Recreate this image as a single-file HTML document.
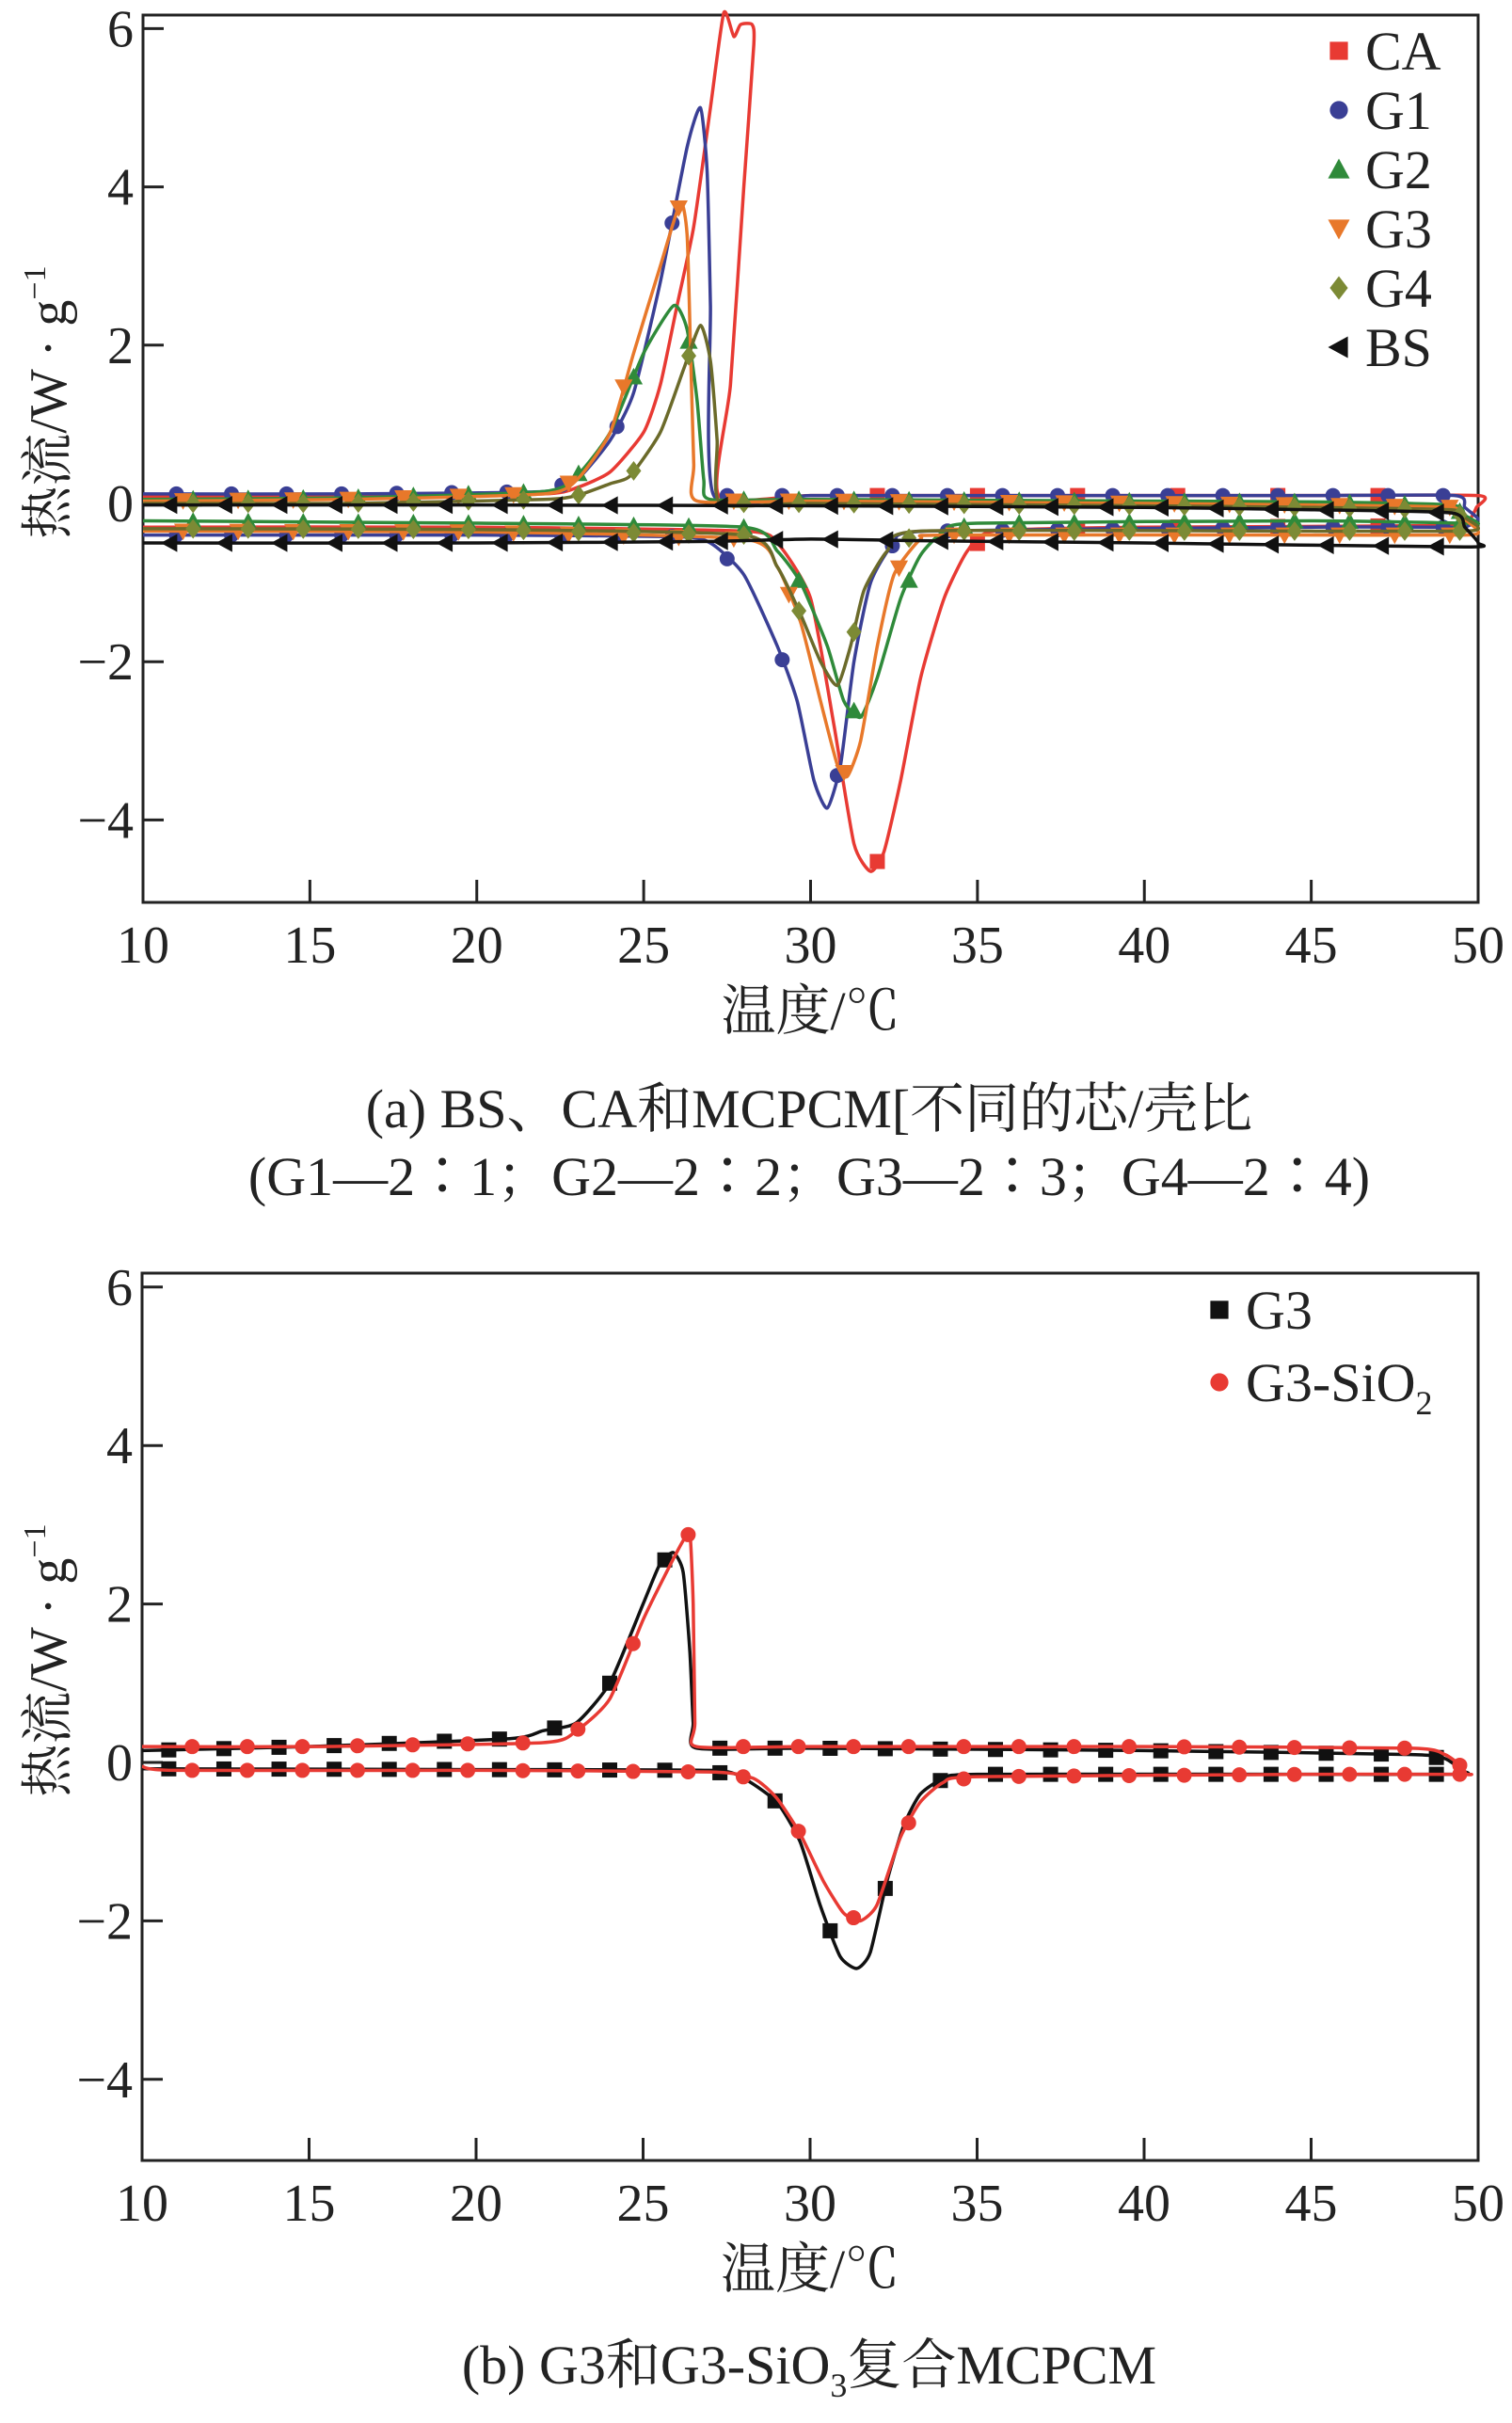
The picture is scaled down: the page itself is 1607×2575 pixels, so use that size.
<!DOCTYPE html>
<html><head><meta charset="utf-8">
<style>
html,body{margin:0;padding:0;background:#fff;}
svg{display:block;}
text{font-family:"Liberation Serif","Noto Serif CJK SC","Noto Sans CJK SC",serif;fill:#222;}
</style></head>
<body>
<svg id="fig" width="1607" height="2575" viewBox="0 0 1607 2575" xmlns="http://www.w3.org/2000/svg"></svg>
<script>
// ---------- Data (panel a) ----------
const xTicks = [10,15,20,25,30,35,40,45,50];
const yTicks = [-4,-2,0,2,4,6];
const yTickLabels = ["\u22124","\u22122","0","2","4","6"];

const caUpperT = [50,45,40,35,30,27.25,27.6,28.0,28.3,28.25,27.9,27.7,27.4,27.0,26.5,26.0,25.5,25.0,24.0,23.0,22.0,16,10];
const caUpperV = [0.1,0.1,0.1,0.1,0.1,0.1,1.5,4.0,5.8,6.05,6.05,5.9,6.2,5.0,3.5,2.5,1.5,0.9,0.4,0.2,0.12,0.1,0.08];
const caLowerT = [10,20,28,29,30,30.7,31.3,31.8,32.2,32.7,33.3,34,34.7,35.5,40,49,49.7,49.95];
const caLowerV = [-0.3,-0.3,-0.35,-0.5,-1.2,-2.8,-4.3,-4.65,-4.4,-3.5,-2.2,-1.2,-0.6,-0.35,-0.3,-0.28,-0.22,-0.05];

const g1UpperT = [50,49.6,49.3,45,40,35,30,27.1,27.0,26.9,26.7,26.3,25.5,24.7,24.0,23.0,22.0,16,10];
const g1UpperV = [-0.2,-0.05,0.1,0.1,0.1,0.1,0.1,0.1,2.5,4.2,5.0,4.5,2.8,1.4,0.8,0.3,0.15,0.12,0.12];
const g1LowerT = [10,20,26,27,28,29,29.6,30.1,30.5,30.9,31.3,31.8,32.5,33.5,45,49,49.6];
const g1LowerV = [-0.4,-0.4,-0.42,-0.5,-0.9,-1.8,-2.5,-3.5,-3.85,-3.3,-2.0,-1.0,-0.5,-0.35,-0.3,-0.3,-0.3];

const g2UpperT = [50,49.6,49.2,45,40,30,27.0,26.8,26.6,26.3,25.9,25.0,24.0,23.0,22.0,16,10];
const g2UpperV = [-0.25,-0.15,-0.02,0.02,0.03,0.05,0.05,0.3,1.3,2.2,2.5,1.9,0.9,0.35,0.15,0.07,0.05];
const g2LowerT = [10,20,28,29,29.7,30.5,31.0,31.5,32.0,32.7,33.3,34,35,45,49.6];
const g2LowerV = [-0.22,-0.25,-0.3,-0.6,-1.0,-1.8,-2.5,-2.7,-2.2,-1.2,-0.65,-0.35,-0.25,-0.22,-0.25];

const g3UpperT = [50,49.6,49.2,45,40,30,26.6,26.5,26.4,26.3,26.1,25.5,24.7,24.0,23.0,22.0,16,10];
const g3UpperV = [-0.35,-0.2,-0.05,-0.02,0.0,0.03,0.03,0.5,2.0,3.4,3.8,3.0,1.9,0.9,0.3,0.12,0.05,0.03];
const g3LowerT = [10,20,28,29,29.7,30.3,30.8,31.1,31.5,32.0,32.5,33.3,34,45,49.6];
const g3LowerV = [-0.35,-0.36,-0.45,-0.8,-1.5,-2.5,-3.3,-3.45,-3.0,-1.8,-0.9,-0.45,-0.4,-0.4,-0.4];

const g4UpperT = [50,49.6,49.2,45,40,30,27.3,27.2,27.0,26.7,26.2,25.5,24.6,24.0,23.0,22.0,16,10];
const g4UpperV = [-0.3,-0.18,-0.08,-0.05,-0.03,0.0,0.0,0.8,1.8,2.25,1.7,0.9,0.35,0.25,0.1,0.05,0.0,0.0];
const g4LowerT = [10,20,28,29,29.7,30.3,30.8,31.2,31.6,32.3,33.3,45,49.6];
const g4LowerV = [-0.32,-0.33,-0.4,-0.8,-1.4,-2.0,-2.3,-1.8,-1.1,-0.6,-0.35,-0.35,-0.35];

const bsUpperT = [50,49.6,49.2,45,40,30,20,10];
const bsUpperV = [-0.5,-0.3,-0.12,-0.08,-0.05,-0.03,-0.02,-0.02];
const bsLowerT = [10,20,27,30,33,40,49.6];
const bsLowerV = [-0.5,-0.5,-0.48,-0.45,-0.47,-0.5,-0.55];

// ---------- Data (panel b) ----------
const bG3UpperT = [49.5,49,48,40,30,26.6,26.5,26.4,26.2,25.9,25.5,25.0,24.0,23.0,22.0,21.0,15,10];
const bG3UpperV = [-0.1,0.05,0.1,0.15,0.18,0.18,0.5,1.4,2.4,2.65,2.5,2.0,1.0,0.5,0.4,0.3,0.2,0.15];
const bG3LowerT = [10,20,27,28,29,29.7,30.3,30.9,31.4,31.8,32.3,32.8,33.3,34,35,45,49.5];
const bG3LowerV = [-0.08,-0.09,-0.1,-0.2,-0.5,-1.0,-1.8,-2.45,-2.6,-2.4,-1.5,-0.8,-0.4,-0.2,-0.15,-0.15,-0.15];

const bSiUpperT = [49.6,49.5,49,48,40,30,26.6,26.55,26.5,26.4,26.2,25.7,25.0,24.0,23.0,22.0,15,10];
const bSiUpperV = [-0.15,-0.05,0.1,0.18,0.2,0.2,0.2,0.5,2.0,2.9,2.8,2.4,1.8,0.8,0.4,0.25,0.2,0.2];
const bSiLowerT = [10,11,20,27,28.3,29,29.7,30.4,31.0,31.5,32.0,32.7,33.3,34,35,45,49.6];
const bSiLowerV = [-0.05,-0.1,-0.1,-0.12,-0.2,-0.45,-0.9,-1.5,-1.9,-2.0,-1.8,-0.95,-0.5,-0.25,-0.18,-0.15,-0.15];

// ---------- Rendering ----------
const NS = "http://www.w3.org/2000/svg";
const svg = document.getElementById('fig');
function el(tag, attrs, parent){ const e=document.createElementNS(NS,tag); for(const k in attrs) e.setAttribute(k,attrs[k]); (parent||svg).appendChild(e); return e; }

function makePanel(cfg){
  const g = el('g',{});
  
  
  const X = t => cfg.x0 + (t-10)*(cfg.x1-cfg.x0)/40;
  const Y = v => cfg.y0 - v*cfg.ppu;
  const fr = el('rect',{x:cfg.x0,y:cfg.top,width:cfg.x1-cfg.x0,height:cfg.bottom-cfg.top,fill:'none',stroke:'#222','stroke-width':3},g);
  
  
  xTicks.forEach(t=>{
    const l = el('line',{x1:X(t),x2:X(t),y1:cfg.bottom,y2:cfg.bottom-24,stroke:'#222','stroke-width':3},g);
    
    
    const tx = el('text',{x:X(t),y:cfg.bottom+64,'font-size':56,'text-anchor':'middle'},g);
    tx.textContent = t;
    
    
  });
  yTicks.forEach((v,i)=>{
    const l = el('line',{x1:cfg.x0,x2:cfg.x0+22,y1:Y(v),y2:Y(v),stroke:'#222','stroke-width':3},g);
    
    
    const tx = el('text',{x:cfg.x0-10,y:Y(v)+19,'font-size':56,'text-anchor':'end'},g);
    tx.textContent = yTickLabels[i];
    
    
  });
  const xt = el('text',{x:(cfg.x0+cfg.x1)/2,y:cfg.bottom+135,'font-size':58,'text-anchor':'middle'},g);
  xt.textContent = '温度/℃';
  
  
  const yc = (cfg.top+cfg.bottom)/2 - 60;
  const yt = el('text',{x:0,y:0,'font-size':56,'text-anchor':'middle',transform:`translate(70,${yc}) rotate(-90)`},g);
  yt.innerHTML = '热流/W · g<tspan dy="-22" font-size="34">−1</tspan>';
  
  

  cfg.series.forEach(s=>{
    const sg = el('g',{},g);
    
    
    const T = s.lt.concat(s.ut), V = s.lv.concat(s.uv);
    const pts = T.map((t,i)=>[X(t),Y(V[i])]);
    let d = 'M'+pts[0][0]+','+pts[0][1];
    for(let i=0;i<pts.length-1;i++){
      const p0=pts[Math.max(0,i-1)],p1=pts[i],p2=pts[i+1],p3=pts[Math.min(pts.length-1,i+2)];
      const k=0.1;
      d+=` C${p1[0]+(p2[0]-p0[0])*k},${p1[1]+(p2[1]-p0[1])*k} ${p2[0]-(p3[0]-p1[0])*k},${p2[1]-(p3[1]-p1[1])*k} ${p2[0]},${p2[1]}`;
    }
    const path = el('path',{d:d,fill:'none',stroke:s.line,'stroke-width':3.5,'stroke-linejoin':'round'},sg);
    
    
    const step = s.step||1.65;
    [[s.ut,s.uv],[s.lt,s.lv]].forEach(([bt,bv])=>{
      for(let tm=s.off; tm<49.9; tm+=step){
        let val=null;
        for(let i=0;i<bt.length-1;i++){
          const a=bt[i],b=bt[i+1];
          if((tm>=Math.min(a,b))&&(tm<=Math.max(a,b))&&a!==b){ val=bv[i]+(bv[i+1]-bv[i])*(tm-a)/(b-a); break; }
        }
        if(val===null) continue;
        const m = drawMarker(s.marker, X(tm), Y(val), s.mcol, sg);
        
        
      }
    });
  });
  cfg.series.forEach((s,i)=>{
    const ly = cfg.legY + i*cfg.legStep;
    const m = drawMarker(s.marker, cfg.legX, ly, s.mcol, g, 1.2);
    
    
    const tx = el('text',{x:cfg.legX+28,y:ly+20,'font-size':58},g);
    tx.innerHTML = s.label;
    
    
  });
}

function drawMarker(type,x,y,col,parent,sc){
  sc = sc||1; const r=8*sc;
  if(type==='sq') return el('rect',{x:x-r,y:y-r,width:2*r,height:2*r,fill:col},parent);
  if(type==='ci') return el('circle',{cx:x,cy:y,r:r,fill:col},parent);
  if(type==='tu') return el('polygon',{points:`${x},${y-r*1.2} ${x-r*1.2},${y+r} ${x+r*1.2},${y+r}`,fill:col},parent);
  if(type==='td') return el('polygon',{points:`${x},${y+r*1.2} ${x-r*1.2},${y-r} ${x+r*1.2},${y-r}`,fill:col},parent);
  if(type==='di') return el('polygon',{points:`${x},${y-r*1.3} ${x+r},${y} ${x},${y+r*1.3} ${x-r},${y}`,fill:col},parent);
  return el('polygon',{points:`${x-r*1.2},${y} ${x+r},${y-r*1.2} ${x+r},${y+r*1.2}`,fill:col},parent);
}

makePanel({name:'panel-a-chart',x0:152,x1:1571,top:16,bottom:959,y0:535,ppu:84.1,legX:1423,legY:54,legStep:63,
  series:[
    {key:'bs',label:'BS',ut:bsUpperT,uv:bsUpperV,lt:bsLowerT,lv:bsLowerV,line:'#111',mcol:'#111',marker:'tl',off:10.8},
    {key:'g4',label:'G4',ut:g4UpperT,uv:g4UpperV,lt:g4LowerT,lv:g4LowerV,line:'#6b6a2a',mcol:'#7c8a35',marker:'di',off:11.5},
    {key:'g3',label:'G3',ut:g3UpperT,uv:g3UpperV,lt:g3LowerT,lv:g3LowerV,line:'#e8782a',mcol:'#e8782a',marker:'td',off:11.2},
    {key:'g2',label:'G2',ut:g2UpperT,uv:g2UpperV,lt:g2LowerT,lv:g2LowerV,line:'#2f8a3a',mcol:'#2f8a3a',marker:'tu',off:11.5},
    {key:'g1',label:'G1',ut:g1UpperT,uv:g1UpperV,lt:g1LowerT,lv:g1LowerV,line:'#3a3f95',mcol:'#3a3f95',marker:'ci',off:11.0},
    {key:'ca',label:'CA',ut:caUpperT,uv:caUpperV,lt:caLowerT,lv:caLowerV,line:'#e83a33',mcol:'#e83a33',marker:'sq',off:32.0,step:3.0}
  ].reverse()
});
makePanel({name:'panel-b-chart',x0:151,x1:1571,top:1353,bottom:2296,y0:1873,ppu:84.2,legX:1296,legY:1392,legStep:77,
  series:[
    {key:'g3',label:'G3',ut:bG3UpperT,uv:bG3UpperV,lt:bG3LowerT,lv:bG3LowerV,line:'#111',mcol:'#111',marker:'sq',off:10.8},
    {key:'g3-sio2',label:'G3-SiO<tspan dy="14" font-size="36">2</tspan>',ut:bSiUpperT,uv:bSiUpperV,lt:bSiLowerT,lv:bSiLowerV,line:'#e83a33',mcol:'#e83a33',marker:'ci',off:11.5}
  ]
});

function cap(txt,y,name){ const t=el('text',{x:860,y:y,'font-size':58,'text-anchor':'middle'}); t.innerHTML=txt;   }
cap('(a) BS、CA和MCPCM[不同的芯/壳比',1198,'caption-a-line1');
cap('(G1—2∶1；G2—2∶2；G3—2∶3；G4—2∶4)',1270,'caption-a-line2');
cap('(b) G3和G3-SiO<tspan dy="14" font-size="36">3</tspan><tspan dy="-14">复合MCPCM</tspan>',2533,'caption-b');
</script>
</body></html>
